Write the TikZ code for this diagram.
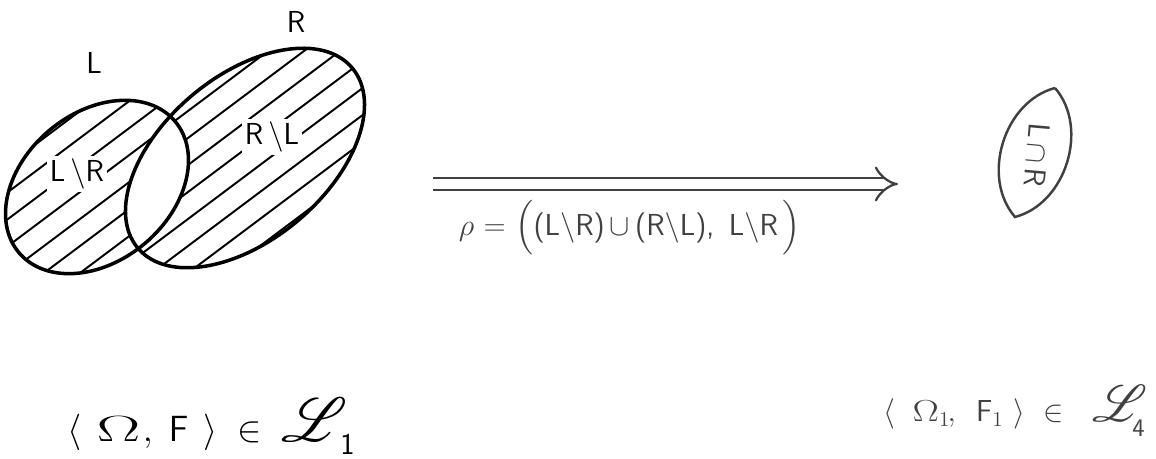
\documentclass[tikz,border=0pt]{standalone}
\usepackage{amsmath,amssymb,mathrsfs}
\usetikzlibrary{arrows.meta}

\newcommand{\bsl}{\textbackslash}
\newcommand{\bigL}[1]{\scalebox{#1}{$\mathscr{L}$}}
\newcommand{\wideOm}[1]{\scalebox{#1}[1]{$\Omega$}}

\begin{document}
\begin{tikzpicture}[x=0.02cm, y=0.02cm,
  font=\sffamily\LARGE,
  setline/.style={line width=2pt},
  hatch/.style={line width=1.1pt},
  setlbl/.style={fill=white, inner sep=1.5pt},
  faded/.style={black!75},
  space/.style={font=\huge, inner sep=0pt, anchor=base west},
]
  \useasboundingbox (0,0) rectangle (1156,459);

  % sets L and R, hatched outside the overlap
  \begin{scope}[even odd rule]
    \clip (97,272) circle[x radius=102, y radius=74, rotate=40]
          (245,301) circle[x radius=140, y radius=82, rotate=40];
    \foreach \c in {-90,-63,...,340}
      \draw[hatch] (-20,\c-15) -- (420,\c+315);
  \end{scope}
  \draw[setline] (97,272) circle[x radius=102, y radius=74, rotate=40];
  \draw[setline] (245,301) circle[x radius=140, y radius=82, rotate=40];

  \node (lname) at (94,396) {L};
  \node (rname) at (296,437) {R};
  \node[setlbl] (lminr) at (77,285) {L\,\bsl R};
  \node[setlbl] (rminl) at (272,322) {R\,\bsl L};

  % the map
  \coordinate (arrS) at (433,275);
  \coordinate (arrE) at (898,275);
  \draw[faded, line width=1.3pt, double distance=0.2cm, -{Implies[scale=1.3]}] (arrS) -- (arrE);
  \node[faded] (rho) at (630,231)
    {$\rho$ = $\Bigl($(L\bsl R)\,$\cup$\,(R\bsl L),\, L\bsl R\,$\Bigr)$};

  % the image set
  \coordinate (lensT) at (1055,371);
  \coordinate (lensB) at (1015,242);
  \draw[faded, line width=1.4pt] (lensT) to[bend left=58] (lensB) to[bend left=58] (lensT);
  \node[faded, rotate=-95] (cap) at (1037,304) {L\,$\cap$\,R};

  % spaces
  \node[space] (spL) at (67,17)
    {$\langle\hspace{0.3cm}\wideOm{1.8}\hspace{0.05cm},\hspace{0.2cm}\mathsf{F}\hspace{0.3cm}\rangle
      \hspace{0.2cm}\in\hspace{0.2cm}\bigL{1.7}$\hspace{-0.15cm}\raisebox{-0.25cm}{\LARGE\sffamily 1}};
  \node[space, faded, font=\LARGE] (spR) at (883,37)
    {$\langle\hspace{0.35cm}\wideOm{1.3}_{1}\hspace{-0.05cm},\hspace{0.3cm}\mathsf{F}_1\hspace{0.2cm}\rangle
      \hspace{0.2cm}\in\hspace{0.4cm}\bigL{1.7}$\hspace{-0.3cm}\raisebox{-0.3cm}{\Large\sffamily 4}};
\end{tikzpicture}
\end{document}
